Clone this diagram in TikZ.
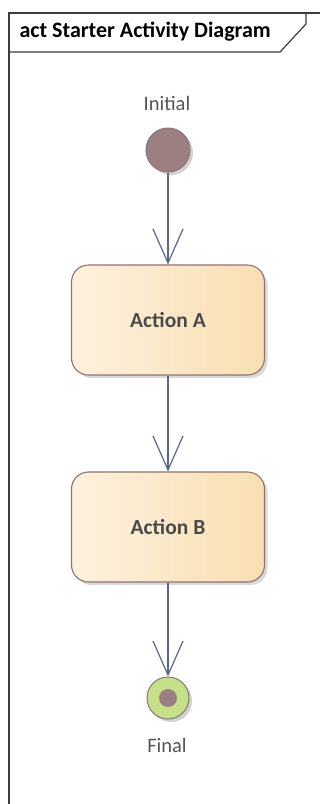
\documentclass[tikz,border=0pt]{standalone}
\usepackage{fontspec}
\setmainfont{Carlito}
\usetikzlibrary{arrows.meta,shadows}
\definecolor{framecol}{HTML}{3C3C3C}
\definecolor{flowcol}{HTML}{5B6685}
\definecolor{startfill}{HTML}{9C7F80}
\definecolor{edgecol}{HTML}{8E7373}
\definecolor{boxleft}{HTML}{FDF1DE}
\definecolor{boxright}{HTML}{F9DFB2}
\definecolor{finalring}{HTML}{C4E08A}
\definecolor{labelcol}{HTML}{555555}
\definecolor{actioncol}{HTML}{4A4A4A}
\tikzset{
  x=1pt, y=-1pt,
  actionbox/.style={draw=edgecol, line width=1.1pt, rounded corners=17pt,
    minimum width=193pt, minimum height=110pt, inner sep=0pt,
    left color=boxleft, right color=boxright,
    drop shadow={shadow xshift=3pt, shadow yshift=-3pt, fill=black, opacity=0.15},
    font=\fontsize{21.5}{24}\selectfont\bfseries, text=actioncol},
  flow/.style={draw=flowcol, line width=1.2pt,
    -{Straight Barb[length=34pt,width=30pt,line width=1.2pt]}},
  caption/.style={font=\fontsize{20.5}{24}\selectfont, text=labelcol},
  pseudostate/.style={circle, draw=edgecol, line width=1pt, inner sep=0pt,
    drop shadow={shadow xshift=3pt, shadow yshift=-3pt, fill=black, opacity=0.18}}
}
\begin{document}
\begin{tikzpicture}
\useasboundingbox (0,0) rectangle (320,804);
\fill[white] (0,0) rectangle (320,804);
% diagram frame with its name tab
\draw[framecol, line width=1.4pt] (9,804) -- (9,13) -- (320,13);
\draw[framecol, line width=1.2pt] (306,13) -- (306,24) -- (280,52) -- (9,52);
\node[anchor=west, font=\fontsize{22}{26}\selectfont\bfseries, text=black] (title) at (16,32) {act Starter Activity Diagram};
% nodes
\node[caption] (initlabel) at (167,103) {Initial};
\node[pseudostate, fill=startfill, minimum size=44pt] (init) at (168,150) {};
\node[actionbox] (a) at (168,320) {Action A};
\node[actionbox] (b) at (168,527) {Action B};
\node[pseudostate, fill=finalring, minimum size=42pt] (final) at (168,698) {};
\node[circle, fill=startfill, minimum size=18pt, inner sep=0pt] (finaldot) at (final.center) {};
\node[caption] (finallabel) at (167,745) {Final};
% control flows
\draw[flow] (init) -- (a);
\draw[flow] (a) -- (b);
\draw[flow] (b) -- (final);
\end{tikzpicture}
\end{document}
